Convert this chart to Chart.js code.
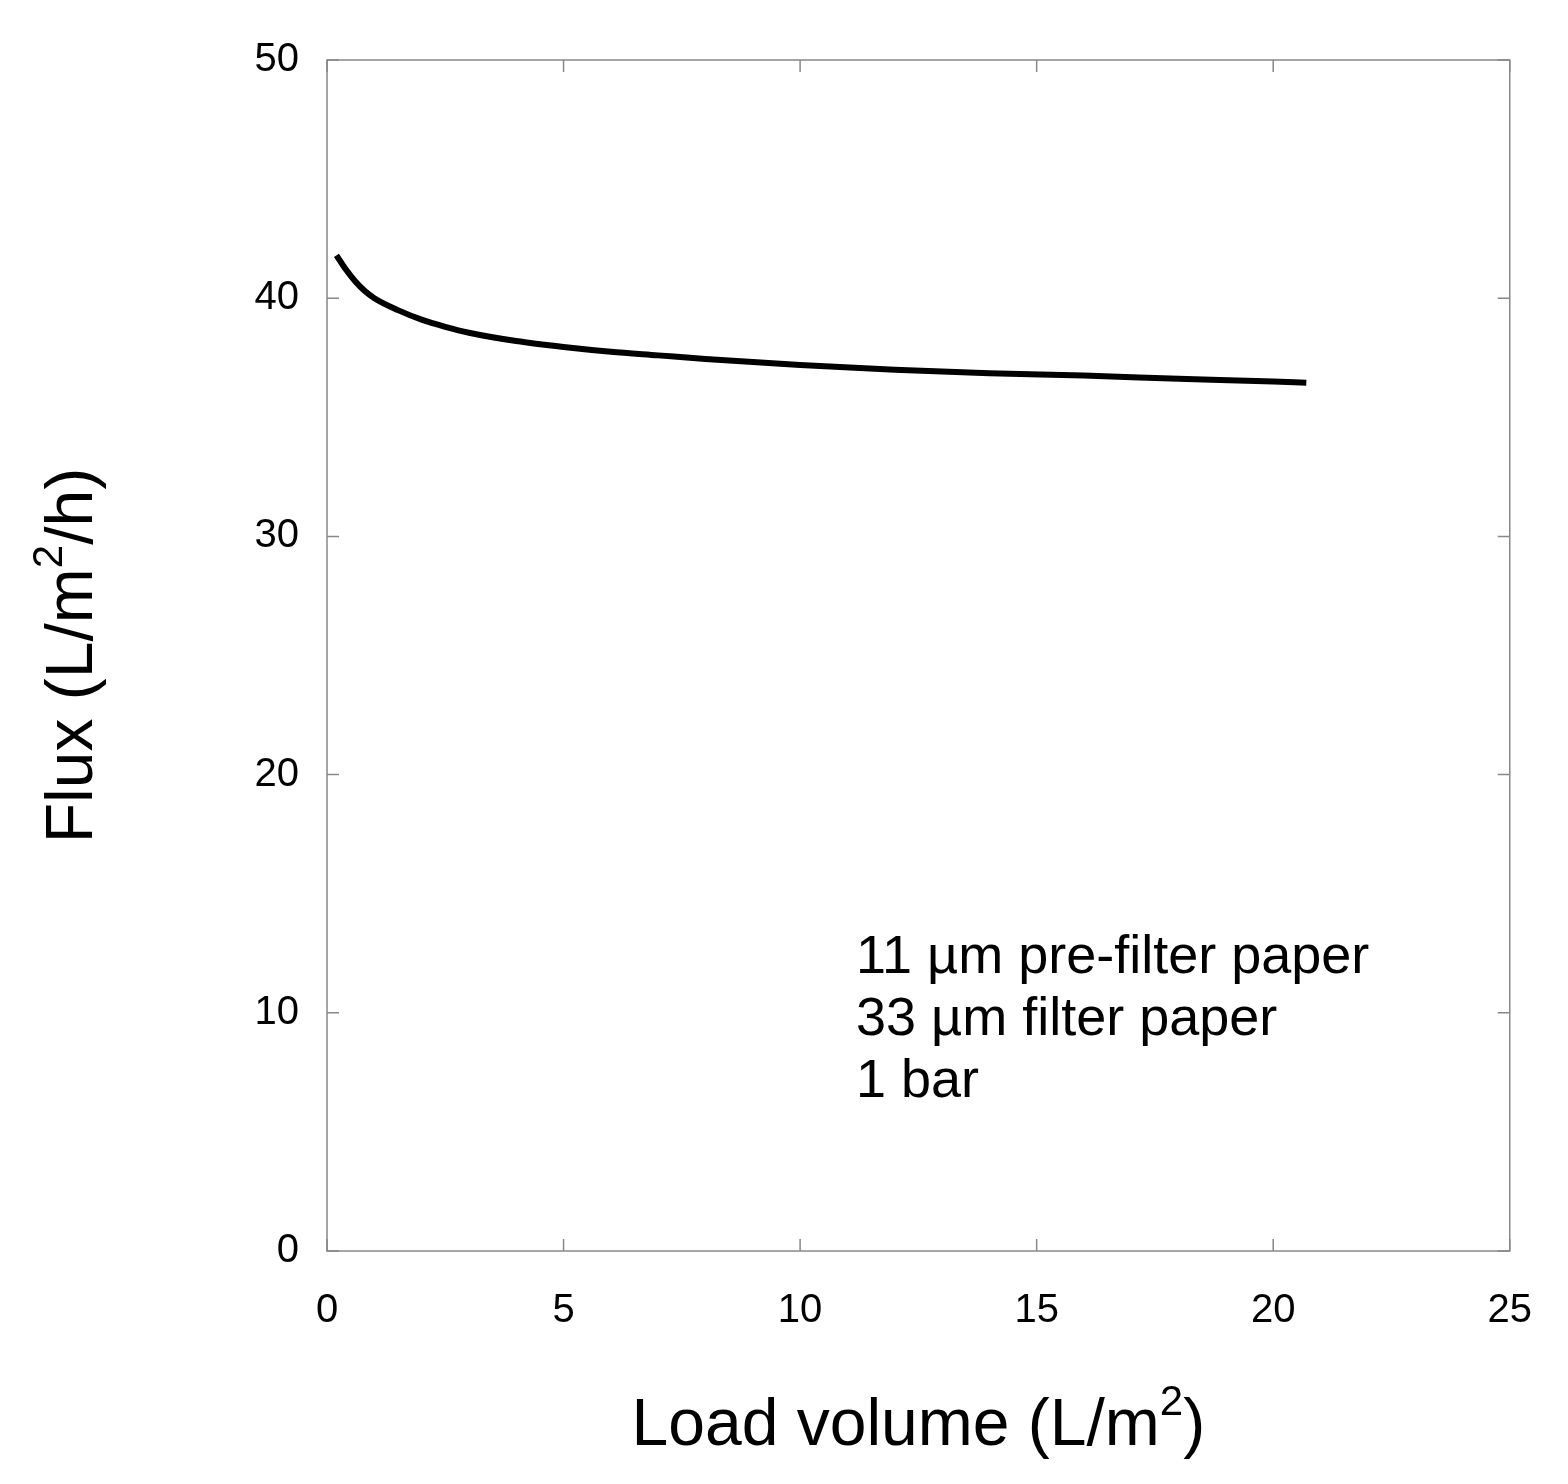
<!DOCTYPE html>
<html><head><meta charset="utf-8">
<script src="https://cdn.jsdelivr.net/npm/chart.js@4"></script>
<style>html,body{margin:0;background:#fff}</style></head>
<body><canvas id="c" width="1568" height="1484"></canvas>
<script>
const loadVolume=[0.2,0.4,0.6,0.8,1,1.5,2,2.5,3,4,5,6,7,8,10,12,14,16,18,20,20.7];
const flux=[41.8,41.2,40.7,40.3,40.0,39.5,39.1,38.8,38.55,38.2,37.95,37.75,37.6,37.45,37.2,37.0,36.85,36.75,36.62,36.5,36.45];
const xTicks=[0,5,10,15,20,25];
const yTicks=[0,10,20,30,40,50];
const notes=["11 \u00b5m pre-filter paper","33 \u00b5m filter paper","1 bar"];
const F="'Liberation Sans', Arial, sans-serif";
const deco={id:'deco',afterDraw(ch){
 const c=ch.ctx,a=ch.chartArea,xs=ch.scales.x,ys=ch.scales.y;
 c.save();c.strokeStyle='#888';c.lineWidth=1.5;
 c.strokeRect(a.left,a.top,a.right-a.left,a.bottom-a.top);
 c.beginPath();
 xTicks.forEach(v=>{const p=xs.getPixelForValue(v);c.moveTo(p,a.bottom);c.lineTo(p,a.bottom-12);c.moveTo(p,a.top);c.lineTo(p,a.top+12);});
 yTicks.forEach(v=>{const p=ys.getPixelForValue(v);c.moveTo(a.left,p);c.lineTo(a.left+12,p);c.moveTo(a.right,p);c.lineTo(a.right-12,p);});
 c.stroke();
 c.fillStyle='#000';c.textBaseline='alphabetic';c.textAlign='left';
 c.font='54px '+F;
 notes.forEach((t,i)=>c.fillText(t,856,973+i*62));
 const B='66px '+F,S='42px '+F;
 c.font=B;
 const t1='Load volume (L/m',t2=')';
 const w1=c.measureText(t1).width;c.font=S;const ws=c.measureText('2').width;c.font=B;const w2=c.measureText(t2).width;
 let x0=(a.left+a.right)/2-(w1+ws+w2)/2,y0=1445;
 c.fillText(t1,x0,y0);c.font=S;c.fillText('2',x0+w1,y0-30);c.font=B;c.fillText(t2,x0+w1+ws,y0);
 c.translate(92,(a.top+a.bottom)/2);c.rotate(-Math.PI/2);
 const s1='Flux (L/m',s2='/h)';
 const v1=c.measureText(s1).width,v2=c.measureText(s2).width;
 x0=-(v1+ws+v2)/2;
 c.fillText(s1,x0,0);c.font=S;c.fillText('2',x0+v1,-30);c.font=B;c.fillText(s2,x0+v1+ws,0);
 c.restore();
}};
new Chart(document.getElementById('c'),{type:'line',
 data:{datasets:[{data:loadVolume.map((x,i)=>({x,y:flux[i]})),borderColor:'#000',borderWidth:6,pointRadius:0,cubicInterpolationMode:'monotone',fill:false}]},
 options:{responsive:false,animation:false,layout:{padding:{top:60,right:53,left:0,bottom:0}},
  plugins:{legend:{display:false},tooltip:{enabled:false}},
  scales:{
   x:{type:'linear',min:0,max:25,afterBuildTicks:s=>{s.ticks=xTicks.map(v=>({value:v}))},afterFit:s=>{s.height=1484-1251},
      grid:{display:false,drawTicks:false},border:{display:false},ticks:{padding:36,color:'#000',font:{size:40,family:F}}},
   y:{min:0,max:50,afterBuildTicks:s=>{s.ticks=yTicks.map(v=>({value:v}))},afterFit:s=>{s.width=327},
      grid:{display:false,drawTicks:false},border:{display:false},ticks:{padding:28,color:'#000',font:{size:40,family:F}}}
  }},plugins:[deco]});
</script></body></html>
